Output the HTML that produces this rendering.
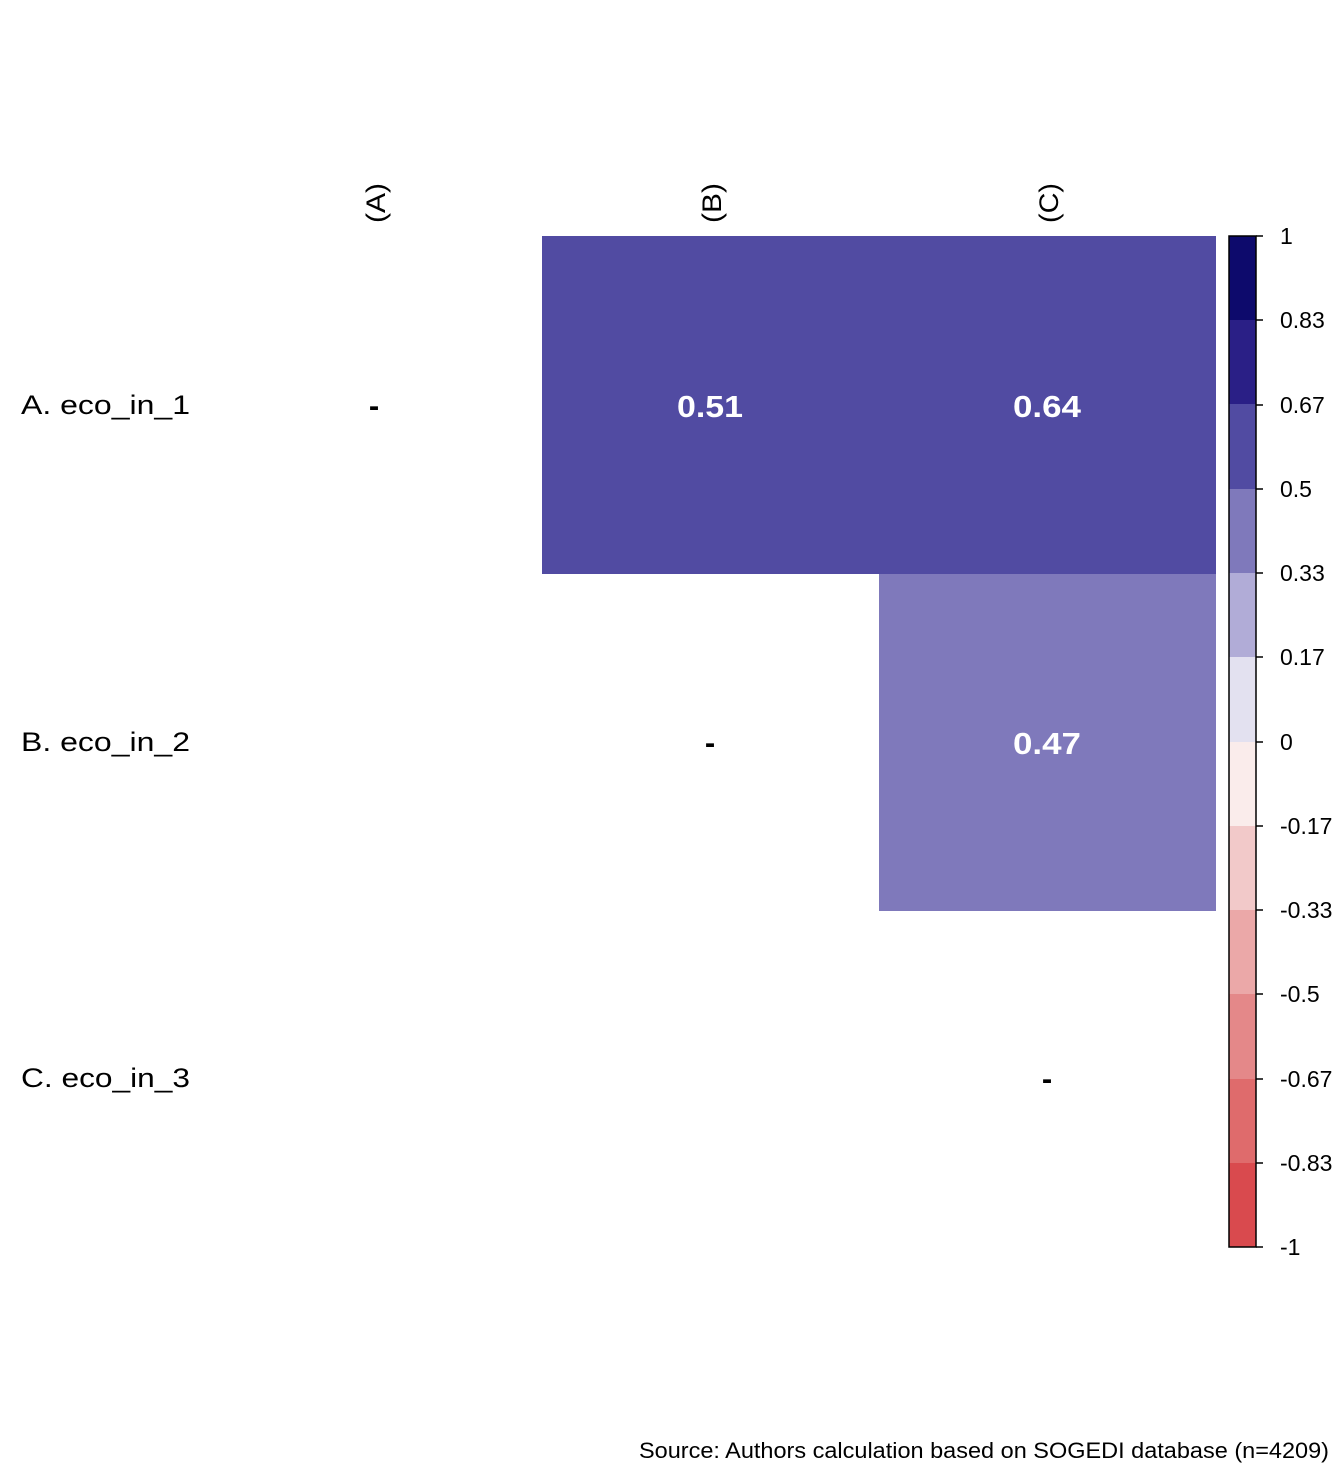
<!DOCTYPE html>
<html><head><meta charset="utf-8"><style>body{margin:0;background:#fff}svg{display:block}</style></head>
<body>
<svg width="1344" height="1478" xmlns="http://www.w3.org/2000/svg" font-family="Liberation Sans, Arial, sans-serif">
<rect width="1344" height="1478" fill="#fff"/>
<rect x="542" y="236" width="674" height="338" fill="#514ba2"/>
<rect x="879" y="574" width="337" height="337" fill="#7f79bb"/>
<g font-size="27" text-anchor="middle" fill="#000">
<text transform="translate(385,203) rotate(-90)" textLength="40" lengthAdjust="spacingAndGlyphs">(A)</text>
<text transform="translate(721,203) rotate(-90)" textLength="40" lengthAdjust="spacingAndGlyphs">(B)</text>
<text transform="translate(1058,203) rotate(-90)" textLength="40" lengthAdjust="spacingAndGlyphs">(C)</text>
</g>
<g font-size="27" fill="#000">
<text x="21" y="414" textLength="169" lengthAdjust="spacingAndGlyphs">A. eco_in_1</text>
<text x="21" y="751" textLength="169" lengthAdjust="spacingAndGlyphs">B. eco_in_2</text>
<text x="21" y="1087" textLength="169" lengthAdjust="spacingAndGlyphs">C. eco_in_3</text>
</g>
<g font-size="31" font-weight="bold" text-anchor="middle">
<text x="374" y="416" fill="#000">-</text>
<text x="710" y="417" fill="#fff" textLength="66" lengthAdjust="spacingAndGlyphs">0.51</text>
<text x="1047" y="417" fill="#fff" textLength="68" lengthAdjust="spacingAndGlyphs">0.64</text>
<text x="710" y="753" fill="#000">-</text>
<text x="1047" y="754" fill="#fff" textLength="68" lengthAdjust="spacingAndGlyphs">0.47</text>
<text x="1047" y="1089" fill="#000">-</text>
</g>
<g>
<rect x="1229" y="236" width="27" height="85" fill="#0d0a6c"/>
<rect x="1229" y="320" width="27" height="85" fill="#2a1f86"/>
<rect x="1229" y="404" width="27" height="85" fill="#514ba2"/>
<rect x="1229" y="489" width="27" height="85" fill="#7f79bb"/>
<rect x="1229" y="573" width="27" height="85" fill="#b1acd7"/>
<rect x="1229" y="657" width="27" height="85" fill="#e3e1f0"/>
<rect x="1229" y="742" width="27" height="85" fill="#faeceb"/>
<rect x="1229" y="826" width="27" height="85" fill="#f2c9c9"/>
<rect x="1229" y="910" width="27" height="85" fill="#eba8a8"/>
<rect x="1229" y="994" width="27" height="85" fill="#e48889"/>
<rect x="1229" y="1079" width="27" height="85" fill="#df6b6c"/>
<rect x="1229" y="1163" width="27" height="84" fill="#d94a4e"/>
<rect x="1229" y="236" width="27" height="1011" fill="none" stroke="#000" stroke-width="1.5"/>
</g>
<g stroke="#000" stroke-width="1.5">
<line x1="1256" x2="1263" y1="236" y2="236"/><line x1="1256" x2="1263" y1="320" y2="320"/>
<line x1="1256" x2="1263" y1="405" y2="405"/><line x1="1256" x2="1263" y1="489" y2="489"/>
<line x1="1256" x2="1263" y1="573" y2="573"/><line x1="1256" x2="1263" y1="657" y2="657"/>
<line x1="1256" x2="1263" y1="742" y2="742"/><line x1="1256" x2="1263" y1="826" y2="826"/>
<line x1="1256" x2="1263" y1="910" y2="910"/><line x1="1256" x2="1263" y1="994" y2="994"/>
<line x1="1256" x2="1263" y1="1079" y2="1079"/><line x1="1256" x2="1263" y1="1163" y2="1163"/>
<line x1="1256" x2="1263" y1="1247" y2="1247"/>
</g>
<g font-size="23" fill="#000">
<text x="1280" y="244">1</text><text x="1280" y="328">0.83</text><text x="1280" y="413">0.67</text>
<text x="1280" y="497">0.5</text><text x="1280" y="581">0.33</text><text x="1280" y="665">0.17</text>
<text x="1280" y="750">0</text><text x="1280" y="834">-0.17</text><text x="1280" y="918">-0.33</text>
<text x="1280" y="1002">-0.5</text><text x="1280" y="1087">-0.67</text><text x="1280" y="1171">-0.83</text>
<text x="1280" y="1255">-1</text>
</g>
<text x="639" y="1458" font-size="22" fill="#000" textLength="690" lengthAdjust="spacingAndGlyphs">Source: Authors calculation based on SOGEDI database (n=4209)</text>
</svg>
</body></html>
